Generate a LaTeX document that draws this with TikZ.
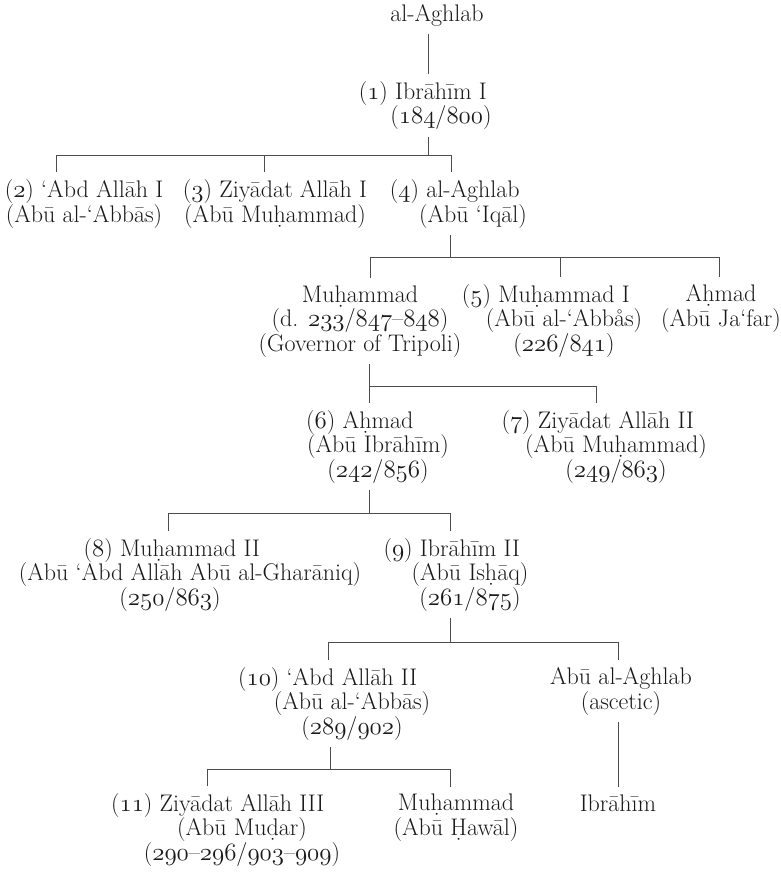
\documentclass[tikz,border=0pt]{standalone}
\usepackage{tikz}
\usetikzlibrary{calc,positioning}
% old-style figures from the math italic font
\newcommand\osf[1]{{\usefont{OML}{lmm}{m}{it}#1}}
\tikzset{
  person/.style={align=center, anchor=base, inner xsep=0pt, inner ysep=7pt,
    font=\fontsize{24}{24.5}\selectfont, text=black!90},
  link/.style={draw=black!70, line width=0.7pt}
}

\begin{document}
\begin{tikzpicture}[x=1pt,y=-1pt]
      \useasboundingbox (0,0) rectangle (780,872);
      % Persons, row by row (placed at the baseline of the last line)
      \node[person] (top) at (437,22) {al-Aghlab};
      \node[person] (n1) at (441,124) {\llap{(\osf{1})\ }Ibrāhīm I\\(\osf{184}/\osf{800})};
      \node[person] (n2) at (84,222) {(\osf{2}) ‘Abd Allāh I\\(Abū al-‘Abbās)};
      \node[person] (n3) at (275,222) {(\osf{3}) Ziyādat Allāh I\\(Abū Muḥammad)};
      \node[person] (n4) at (473,222) {\llap{(\osf{4})\ }al-Aghlab\\(Abū ‘Iqāl)};
      \node[person] (m1) at (360,351) {Muḥammad\\(d. \osf{233}/\osf{847}–\osf{848})\\(Governor of Tripoli)};
      \node[person] (n5) at (564,351) {\llap{(\osf{5})\ }Muḥammad I\\(Abū al-‘Abbås)\\(\osf{226}/\osf{841})};
      \node[person] (a1) at (721,326) {Aḥmad\\(Abū Ja‘far)};
      \node[person] (n6) at (378,477) {\llap{(\osf{6})\ }Aḥmad\\(Abū Ibrāhīm)\\(\osf{242}/\osf{856})};
      \node[person] (n7) at (616,477) {\llap{(\osf{7})\ }Ziyādat Allāh II\\(Abū Muḥammad)\\(\osf{249}/\osf{863})};
      \node[person] (n8) at (190,605) {\llap{(\osf{8})\ }Muḥammad II\\(Abū ‘Abd Allāh Abū al-Gharāniq)\\(\osf{250}/\osf{863})\hspace*{40pt}};
      \node[person] (n9) at (470,605) {\llap{(\osf{9})\ }Ibrāhīm II\\(Abū Isḥāq)\\(\osf{261}/\osf{875})};
      \node[person] (n10) at (352,734) {\llap{(\osf{10})\ }‘Abd Allāh II\\(Abū al-‘Abbās)\\(\osf{289}/\osf{902})};
      \node[person] (b1) at (621,709) {Abū al-Aghlab\\(ascetic)};
      \node[person] (n11) at (242,860) {\llap{(\osf{11})\ }Ziyādat Allāh III\\(Abū Muḍar)\\(\osf{290}–\osf{296}/\osf{903}–\osf{909})};
      \node[person] (m2) at (456,835) {Muḥammad\\(Abū Ḥawāl)};
      \node[person] (i2) at (618,811) {Ibrāhīm};
      % Junctions of the family bars
      \coordinate (j1) at (428,155);
      \coordinate (j1a) at (56,155);
      \coordinate (j1b) at (264,155);
      \coordinate (j1c) at (451,155);
      \coordinate (j4) at (450,257);
      \coordinate (j4a) at (370,257);
      \coordinate (j4b) at (560,257);
      \coordinate (j4c) at (719,257);
      \coordinate (jm) at (369,386);
      \coordinate (jmb) at (596,386);
      \coordinate (j6) at (369,513);
      \coordinate (j6a) at (168,513);
      \coordinate (j6b) at (450,513);
      \coordinate (j9) at (450,642);
      \coordinate (j9a) at (328,642);
      \coordinate (j9b) at (618,642);
      \coordinate (j10) at (330,769);
      \coordinate (j10a) at (207,769);
      \coordinate (j10b) at (450,769);
      % al-Aghlab and Ibrahim I
      \draw[link] (top.south -| j1) -- (n1.north -| j1);
      \draw[link] (n1.south -| j1) -- (j1);
      \draw[link] (n2.north -| j1a) |- (j1c) -- (n4.north -| j1c);
      \draw[link] (n3.north -| j1b) -- (j1b);
      % sons of al-Aghlab (4)
      \draw[link] (n4.south -| j4) -- (j4);
      \draw[link] (m1.north -| j4a) |- (j4c) -- (a1.north -| j4c);
      \draw[link] (n5.north -| j4b) -- (j4b);
      % sons of Muhammad
      \draw[link] (m1.south -| jm) -- (n6.north -| jm);
      \draw[link] (jm) -- (jmb) -- (n7.north -| jmb);
      % sons of Ahmad (6)
      \draw[link] (n6.south -| j6) -- (j6);
      \draw[link] (n8.north -| j6a) |- (j6b) -- (n9.north -| j6b);
      % sons of Ibrahim II
      \draw[link] (n9.south -| j9) -- (j9);
      \draw[link] (n10.north -| j9a) |- (j9b) -- (b1.north -| j9b);
      % sons of Abd Allah II and Abu al-Aghlab
      \draw[link] (n10.south -| j10) -- (j10);
      \draw[link] (n11.north -| j10a) |- (j10b) -- (m2.north -| j10b);
      \draw[link] (b1.south -| j9b) -- (i2.north -| j9b);
    \end{tikzpicture}
\end{document}
